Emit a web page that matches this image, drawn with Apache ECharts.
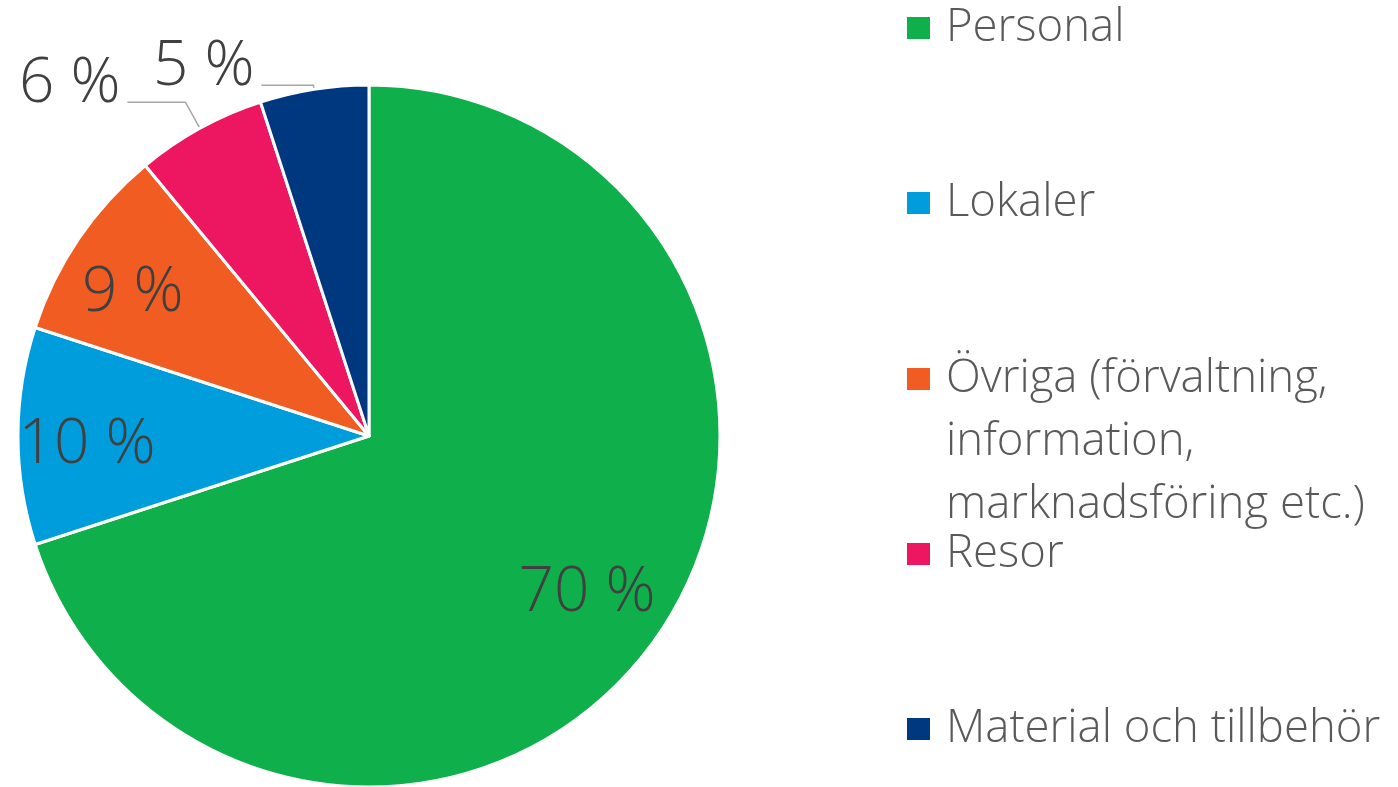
<!DOCTYPE html>
<html>
<head>
<meta charset="utf-8">
<script src="https://cdn.jsdelivr.net/npm/echarts@6/dist/echarts.min.js"></script>
<style>
  html, body { margin: 0; padding: 0; background: #fff; }
  #chart { width: 1398px; height: 787px; }
</style>
</head>
<body>
<div id="chart"></div>
<script>
(function () {
  "use strict";

  var categories = [
    "Personal",
    "Lokaler",
    "Övriga (förvaltning, information, marknadsföring etc.)",
    "Resor",
    "Material och tillbehör"
  ];
  var shares = [70, 10, 9, 6, 5];
  var colors = ["#0fb04b", "#009ddd", "#f15c22", "#ed1660", "#00387f"];

  var FONT = "'Open Sans', 'Segoe UI', sans-serif";
  var CX = 369, CY = 436, R = 351;
  // inside labels: distance from centre (fraction of radius) and a small vertical nudge
  var insideRadius = [0.755, 0.79, 0.8];
  var insideDy = [-1, 9, 18];

  var data = categories.map(function (name, i) {
    var item = { name: name, value: shares[i], itemStyle: { color: colors[i] } };
    if (i >= 3) {
      item.label = {
        position: "outside",
        distanceToLabelLine: 7,
        formatter: "{c} %\n",
        lineHeight: 36
      };
      item.labelLine = {
        show: true,
        length: i === 3 ? 30 : 4,
        length2: i === 3 ? 58 : 52,
        lineStyle: { color: "#a6a6a6", width: 1.5 }
      };
    }
    return item;
  });

  // one legend per entry so the wrapped entry lines up like the original
  var legendTops = [-3.5, 171.5, 221.5, 522.5, 697.5];
  var legends = categories.map(function (name, i) {
    var wrapped = i === 2;
    return {
      data: [name],
      orient: "vertical",
      left: 905,
      top: legendTops[i],
      padding: 0,
      icon: "rect",
      itemWidth: 25,
      itemHeight: 24,
      selectedMode: false,
      formatter: function (n) {
        return wrapped ? "\n\n" + n.replace(/, /g, ",\n") : n;
      },
      textStyle: {
        fontFamily: FONT,
        fontWeight: 300,
        fontSize: 45.5,
        lineHeight: 63,
        color: "#595959",
        padding: [0, 0, 0, 10]
      }
    };
  });

  var chart = echarts.init(document.getElementById("chart"), null, { renderer: "canvas" });

  chart.setOption({
    animation: false,
    backgroundColor: "#ffffff",
    legend: legends,
    series: [
      {
        type: "pie",
        center: [CX, CY],
        radius: [0, R],
        startAngle: 90,
        clockwise: true,
        avoidLabelOverlap: false,
        itemStyle: { borderColor: "#ffffff", borderWidth: 3 },
        label: {
          show: true,
          position: "inside",
          formatter: "{c} %",
          fontFamily: FONT,
          fontWeight: 300,
          fontSize: 62,
          color: "#404040"
        },
        labelLine: { show: false },
        emphasis: { disabled: true },
        labelLayout: function (p) {
          if (p.dataIndex >= 3) {
            return;
          }
          var r = p.labelRect;
          var k = insideRadius[p.dataIndex] / 0.5;
          var lx = r.x + r.width / 2;
          var ly = r.y + r.height / 2;
          return {
            x: CX + (lx - CX) * k,
            y: CY + (ly - CY) * k + insideDy[p.dataIndex]
          };
        },
        data: data
      }
    ]
  });

  window.addEventListener("resize", function () {
    chart.resize();
  });
})();
</script>
</body>
</html>
